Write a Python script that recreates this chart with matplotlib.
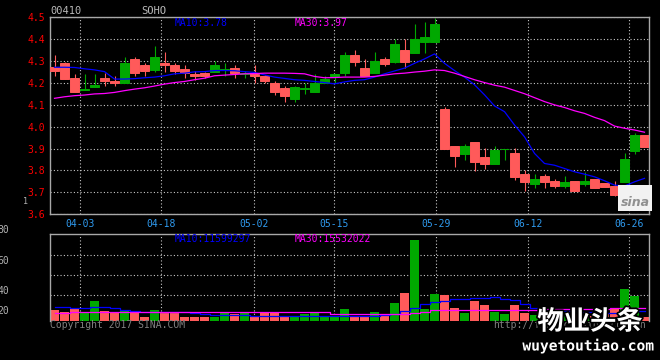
import matplotlib.pyplot as plt
import matplotlib.patheffects as pe
from matplotlib.patches import Rectangle
import numpy as np

# daily candles, 60 sessions (index 0 .. 59)
opens = [4.275, 4.293, 4.224, 4.170, 4.181, 4.224, 4.211, 4.200, 4.309, 4.283,
         4.260, 4.293, 4.283, 4.263, 4.242, 4.245, 4.252, 4.258, 4.269, 4.240,
         4.245, 4.230, 4.200, 4.175, 4.128, 4.172, 4.157, 4.200, 4.230, 4.248,
         4.328, 4.268, 4.248, 4.310, 4.298, 4.351, 4.339, 4.389, 4.389, 4.081,
         3.912, 3.875, 3.930, 3.861, 3.830, 3.899, 3.880, 3.784, 3.738, 3.774,
         3.752, 3.729, 3.752, 3.738, 3.761, 3.743, 3.729, 3.747, 3.889, 3.962]
highs = [4.328, 4.295, 4.242, 4.242, 4.239, 4.245, 4.233, 4.318, 4.318, 4.293,
         4.369, 4.342, 4.290, 4.283, 4.257, 4.252, 4.302, 4.293, 4.283, 4.257,
         4.283, 4.235, 4.207, 4.187, 4.187, 4.200, 4.242, 4.233, 4.242, 4.343,
         4.351, 4.309, 4.343, 4.321, 4.400, 4.400, 4.469, 4.478, 4.498, 4.091,
         3.912, 3.921, 3.930, 3.901, 3.912, 3.899, 3.901, 3.802, 3.783, 3.783,
         3.761, 3.774, 3.752, 3.792, 3.761, 3.743, 3.752, 3.879, 3.971, 3.962]
lows = [4.230, 4.220, 4.157, 4.170, 4.180, 4.187, 4.185, 4.200, 4.231, 4.230,
        4.252, 4.252, 4.242, 4.222, 4.215, 4.222, 4.250, 4.230, 4.222, 4.222,
        4.200, 4.200, 4.146, 4.113, 4.113, 4.150, 4.157, 4.200, 4.202, 4.230,
        4.280, 4.230, 4.248, 4.280, 4.290, 4.268, 4.339, 4.339, 4.389, 3.898,
        3.818, 3.848, 3.798, 3.807, 3.830, 3.847, 3.757, 3.706, 3.720, 3.720,
        3.720, 3.720, 3.706, 3.729, 3.720, 3.725, 3.683, 3.747, 3.875, 3.906]
closes = [4.257, 4.220, 4.157, 4.174, 4.190, 4.207, 4.200, 4.292, 4.248, 4.257,
          4.319, 4.281, 4.257, 4.248, 4.230, 4.230, 4.283, 4.262, 4.245, 4.244,
          4.230, 4.207, 4.157, 4.139, 4.181, 4.175, 4.202, 4.219, 4.242, 4.328,
          4.296, 4.230, 4.301, 4.289, 4.378, 4.298, 4.401, 4.410, 4.469, 3.898,
          3.866, 3.912, 3.839, 3.830, 3.893, 3.900, 3.771, 3.747, 3.761, 3.747,
          3.729, 3.747, 3.706, 3.752, 3.720, 3.725, 3.688, 3.852, 3.962, 3.906]
ma10 = [4.272, 4.272, 4.271, 4.265, 4.260, 4.252, 4.218, 4.218, 4.220, 4.224,
        4.227, 4.233, 4.242, 4.245, 4.251, 4.252, 4.257, 4.257, 4.256, 4.252,
        4.248, 4.237, 4.227, 4.221, 4.215, 4.212, 4.207, 4.202, 4.196, 4.205,
        4.212, 4.215, 4.227, 4.242, 4.255, 4.268, 4.290, 4.310, 4.333, 4.290,
        4.257, 4.227, 4.192, 4.146, 4.095, 4.069, 4.008, 3.954, 3.878, 3.832,
        3.824, 3.809, 3.794, 3.783, 3.771, 3.753, 3.733, 3.729, 3.748, 3.764]
ma30 = [4.130, 4.137, 4.142, 4.145, 4.150, 4.152, 4.157, 4.165, 4.172, 4.178,
        4.186, 4.195, 4.202, 4.207, 4.215, 4.222, 4.233, 4.236, 4.239, 4.242,
        4.243, 4.245, 4.245, 4.245, 4.244, 4.242, 4.230, 4.224, 4.225, 4.227,
        4.227, 4.227, 4.230, 4.236, 4.242, 4.245, 4.250, 4.254, 4.260, 4.257,
        4.245, 4.230, 4.215, 4.202, 4.190, 4.181, 4.166, 4.151, 4.133, 4.115,
        4.100, 4.088, 4.073, 4.061, 4.043, 4.028, 4.003, 3.993, 3.985, 3.975]

# volume in millions of shares
volume = [12.6, 9.9, 15.0, 9.4, 23.2, 11.4, 9.4, 11.0, 9.4, 4.7,
          12.6, 9.4, 9.4, 4.7, 4.7, 4.7, 4.7, 8.6, 7.4, 8.6,
          5.1, 9.7, 9.7, 5.5, 5.9, 8.3, 10.3, 5.5, 5.5, 13.8,
          5.5, 5.5, 10.3, 5.5, 20.9, 32.7, 95.2, 13.8, 31.5, 30.3,
          15.1, 9.4, 23.2, 18.5, 10.3, 7.9, 18.5, 8.9, 6.7, 7.1,
          5.9, 5.9, 8.3, 7.1, 5.9, 8.3, 14.2, 37.4, 29.5, 4.5]
vol_ma10 = [15.8, 15.8, 15.3, 15.3, 16.5, 16.5, 14.8, 12.4, 11.2, 10.3,
            10.3, 9.9, 9.9, 9.9, 9.1, 8.3, 6.7, 6.7, 6.7, 6.7,
            5.9, 5.9, 5.5, 5.5, 5.5, 5.5, 5.5, 5.5, 5.5, 5.5,
            5.5, 5.5, 5.5, 6.5, 8.3, 11.2, 15.3, 19.4, 21.7, 23.6,
            25.6, 25.6, 26.4, 27.1, 27.6, 26.0, 24.4, 19.7, 14.6, 13.0,
            11.8, 11.8, 11.2, 10.6, 10.0, 9.4, 9.4, 9.4, 11.4, 11.6]
vol_ma30 = [8.7, 9.4, 9.9, 9.9, 9.9, 9.9, 9.9, 9.9, 9.9, 9.9,
            9.9, 9.9, 9.9, 9.9, 9.9, 9.9, 9.9, 9.9, 10.3, 10.8,
            9.9, 9.9, 9.9, 9.9, 9.9, 9.9, 9.9, 9.9, 7.6, 7.6,
            7.6, 7.6, 7.6, 7.6, 7.6, 7.9, 9.1, 10.6, 12.3, 12.3,
            12.6, 12.6, 12.6, 12.6, 12.6, 12.6, 12.6, 12.6, 12.6, 14.2,
            14.2, 14.2, 14.2, 14.2, 14.2, 13.6, 15.5, 15.5, 15.5, 15.5]

date_labels = ['04-03', '04-18', '05-02', '05-15', '05-29', '06-12', '06-26']
date_pos = [2.58, 10.68, 19.92, 27.98, 38.18, 47.32, 57.48]
price_ticks = [3.6, 3.7, 3.8, 3.9, 4.0, 4.1, 4.2, 4.3, 4.4, 4.5]
vol_grid = [30, 54, 78]
vol_labels = ['80', '60', '40', '20']

UP = '#00a800'
DOWN = '#ff5a5a'
GRID = '#c8c8c8'
FRAME = '#a8a8a8'
MONO = 'DejaVu Sans Mono'
W, H = 660, 360


def box(x0, y0, x1, y1):
    # pixel box (top-left origin) -> figure fraction rect
    return [x0 / W, 1 - y1 / H, (x1 - x0) / W, (y1 - y0) / H]


def style(ax):
    ax.set_facecolor('black')
    for s in ax.spines.values():
        s.set_color(FRAME)
        s.set_linewidth(1.0)
    ax.tick_params(length=0)
    ax.grid(True, color=GRID, linestyle=(0, (1, 2)), linewidth=0.8)
    ax.set_axisbelow(True)
    ax.set_xlim(-0.42, 59.48)


fig = plt.figure(figsize=(6.6, 3.6), dpi=100, facecolor='black')
ax = fig.add_axes(box(50.3, 17.4, 649.3, 214.2))
axv = fig.add_axes(box(50.3, 234.3, 649.3, 320.7))
style(ax)
style(axv)

x = np.arange(len(opens))
o, h, l, c = map(np.array, (opens, highs, lows, closes))
colors = np.where(c >= o, UP, DOWN)

# candles
ax.vlines(x, l, h, colors=colors, linewidth=0.8, zorder=2)
ax.bar(x, c - o, bottom=o, width=0.9, color=colors, edgecolor=colors,
       linewidth=0.7, zorder=3)
ax.plot(x, ma10, color='#0000ff', linewidth=0.9, zorder=4)
ax.plot(x, ma30, color='#ff00ff', linewidth=0.9, zorder=4)

ax.set_ylim(3.6, 4.5)
ax.set_yticks(price_ticks)
ax.set_yticklabels([f'{t:.1f}' for t in price_ticks], color='#ff0000',
                   family=MONO, fontsize=7)
ax.tick_params(axis='y', pad=4)
ax.set_xticks(date_pos)
ax.set_xticklabels(date_labels, color='#2f9bf0', family=MONO, fontsize=7)
ax.tick_params(axis='x', pad=3.5)

# volume
axv.bar(x, volume, width=0.9, color=colors, zorder=2)
axv.plot(x, vol_ma10, color='#0000ff', linewidth=0.9, drawstyle='steps-mid', zorder=3)
axv.plot(x, vol_ma30, color='#ff00ff', linewidth=0.9, drawstyle='steps-mid', zorder=3)
axv.set_ylim(0, 102)
axv.set_yticks(vol_grid)
axv.set_xticks(date_pos)
axv.set_xticklabels([])
axv.set_yticklabels([])
axv.spines['bottom'].set_visible(False)

# header texts
fig.text(50 / W, 1 - 11.5 / H, '00410', color='#b8b8b8', family=MONO,
         fontsize=7.5, va='center')
fig.text(141 / W, 1 - 11.5 / H, 'SOHO', color='#b8b8b8', family=MONO,
         fontsize=7.5, va='center')
fig.text(175 / W, 1 - 23.5 / H, 'MA10:3.78', color='#0000ff', family=MONO,
         fontsize=7, va='center')
fig.text(295 / W, 1 - 23.5 / H, 'MA30:3.97', color='#ff00ff', family=MONO,
         fontsize=7, va='center')
fig.text(175 / W, 1 - 238.7 / H, 'MA10:11599297', color='#0000ff', family=MONO,
         fontsize=7, va='center')
fig.text(295 / W, 1 - 238.7 / H, 'MA30:15532022', color='#ff00ff', family=MONO,
         fontsize=7, va='center')
fig.text(22.5 / W, 1 - 201 / H, '1', color='#b0b0b0', family=MONO,
         fontsize=6, va='center')

for lab, yy in zip(vol_labels, [230, 260.7, 290.7, 310.7]):
    fig.text(9.5 / W, 1 - yy / H, lab, color='#b0b0b0', family=MONO,
             fontsize=7, va='center', ha='right')

fig.text(50 / W, 1 - 324.5 / H, 'Copyright 2017 SINA.COM', color='#808080',
         family=MONO, fontsize=7, va='center')
fig.text(493 / W, 1 - 324.5 / H, 'http://finance.sina.com.cn', color='#808080',
         family=MONO, fontsize=7, va='center')

# sina logo box
fig.add_artist(Rectangle((618 / W, 1 - 211 / H), 34 / W, 26 / H,
                         transform=fig.transFigure, facecolor='#f2f2f2',
                         edgecolor='none', zorder=5))
fig.text(635 / W, 1 - 202 / H, 'sina', color='#909090', fontsize=9,
         style='italic', weight='bold', ha='center', va='center', zorder=6)

# watermark
stroke = [pe.withStroke(linewidth=2.5, foreground='black')]
fig.text(590 / W, 1 - 322 / H, '物业头条', color='white', fontsize=19,
         weight='bold', family=['Noto Sans CJK SC', 'DejaVu Sans'],
         ha='center', va='center', path_effects=stroke, zorder=7)
fig.text(588 / W, 1 - 345.5 / H, 'wuyetoutiao.com', color='white', family=MONO,
         fontsize=10.5, weight='bold', ha='center', va='center',
         path_effects=stroke, zorder=7)

fig.savefig('out.png', dpi=100, facecolor='black')
